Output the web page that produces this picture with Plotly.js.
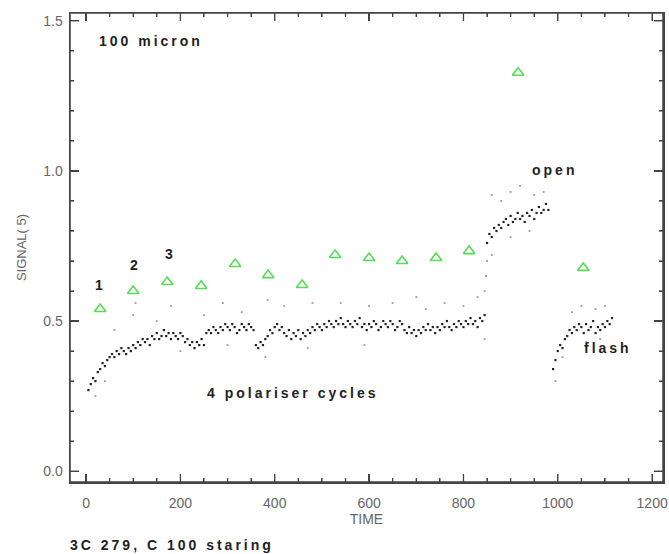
<!DOCTYPE html>
<html>
<head>
<meta charset="utf-8">
<script src="https://cdn.plot.ly/plotly-3.0.1.min.js"></script>
<style>
html, body { margin: 0; padding: 0; background: #fff; }
#chart { width: 669px; height: 554px; }
.annotation-text, .gtitle { letter-spacing: 3px; }
</style>
</head>
<body>
<div id="chart"></div>
<script>
// ---- data ----
const cycleTime = [5,10,15,20,25,30,35,40,45,50,55,60,65,70,75,80,85,90,95,100,
105,110,115,120,125,130,135,140,145,150,155,160,165,170,175,180,185,190,195,200,
205,210,215,220,225,230,235,240,245,250,255,260,265,270,275,280,285,290,295,300,
305,310,315,320,325,330,335,340,345,350,355,360,365,370,375,380,385,390,395,400,
405,410,415,420,425,430,435,440,445,450,455,460,465,470,475,480,485,490,495,500,
505,510,515,520,525,530,535,540,545,550,555,560,565,570,575,580,585,590,595,600,
605,610,615,620,625,630,635,640,645,650,655,660,665,670,675,680,685,690,695,700,
705,710,715,720,725,730,735,740,745,750,755,760,765,770,775,780,785,790,795,800,
805,810,815,820,825,830,835,840,845];
const cycleSignal = [0.27,0.29,0.31,0.30,0.33,0.34,0.36,0.35,0.37,0.38,0.39,0.38,0.40,0.39,0.41,0.40,0.39,0.41,0.40,0.42,
0.41,0.43,0.42,0.44,0.43,0.44,0.42,0.45,0.44,0.46,0.44,0.45,0.47,0.45,0.46,0.44,0.46,0.45,0.44,0.46,
0.45,0.43,0.44,0.42,0.43,0.41,0.43,0.42,0.44,0.42,0.46,0.47,0.46,0.48,0.47,0.46,0.48,0.47,0.49,0.48,
0.47,0.49,0.48,0.46,0.47,0.49,0.48,0.47,0.49,0.48,0.47,0.42,0.41,0.43,0.42,0.44,0.45,0.47,0.46,0.48,
0.49,0.47,0.48,0.46,0.45,0.47,0.44,0.46,0.45,0.47,0.44,0.46,0.45,0.47,0.46,0.48,0.47,0.49,0.48,0.47,
0.49,0.48,0.50,0.49,0.48,0.50,0.49,0.51,0.49,0.48,0.50,0.49,0.48,0.50,0.49,0.51,0.48,0.49,0.47,0.49,
0.48,0.50,0.49,0.47,0.48,0.50,0.49,0.48,0.50,0.49,0.47,0.48,0.50,0.49,0.47,0.46,0.48,0.46,0.47,0.45,
0.47,0.46,0.48,0.47,0.49,0.47,0.48,0.46,0.48,0.47,0.49,0.48,0.50,0.48,0.47,0.49,0.48,0.50,0.49,0.48,
0.50,0.49,0.51,0.49,0.50,0.48,0.51,0.50,0.52];

const openTime = [850,855,860,865,870,875,880,885,890,895,900,905,910,915,920,925,930,935,940,945,950,955,960,965,970,975,980];
const openSignal = [0.76,0.79,0.78,0.81,0.80,0.82,0.81,0.83,0.84,0.82,0.85,0.83,0.84,0.86,0.84,0.85,0.83,0.86,0.85,0.87,0.84,0.86,0.88,0.86,0.87,0.89,0.87];

const flashTime = [990,995,1000,1005,1010,1015,1020,1025,1030,1035,1040,1045,1050,1055,1060,1065,1070,1075,1080,1085,1090,1095,1100,1105,1110,1115];
const flashSignal = [0.34,0.37,0.40,0.42,0.41,0.44,0.45,0.47,0.46,0.48,0.47,0.49,0.48,0.46,0.49,0.47,0.48,0.50,0.46,0.48,0.47,0.49,0.48,0.50,0.49,0.51];

const scatterTime = [20,40,60,100,105,150,180,200,250,290,300,330,380,385,420,470,480,540,590,600,650,700,720,760,800,830,845,845,848,850,
860,880,900,920,950,970,900,940,860,995,1010,1030,1050,1080,1100,1060,1090];
const scatterSignal = [0.25,0.30,0.47,0.52,0.56,0.50,0.55,0.40,0.52,0.56,0.42,0.53,0.38,0.57,0.55,0.41,0.56,0.56,0.42,0.55,0.56,0.58,0.54,0.56,0.55,0.58,0.60,0.44,0.65,0.70,
0.92,0.90,0.93,0.95,0.92,0.93,0.78,0.80,0.72,0.30,0.38,0.53,0.55,0.54,0.55,0.43,0.44];

const refTime = [30,100,172,244,316,386,458,528,600,670,742,812,916,1054];
const refSignal = [0.54,0.60,0.63,0.617,0.69,0.653,0.62,0.72,0.71,0.70,0.71,0.733,1.327,0.677];

const xTicks = [0,200,400,600,800,1000,1200];
const xMinorTicks = [50,100,150,250,300,350,450,500,550,650,700,750,850,900,950,1050,1100,1150];
const yTicks = [0.0,0.5,1.0,1.5];
const yMinorTicks = [0.1,0.2,0.3,0.4,0.6,0.7,0.8,0.9,1.1,1.2,1.3,1.4];
const yTickText = ['0.0','0.5','1.0','1.5'];

// ---- drawing ----
const dotMarker = {symbol:'square', size:2.2, color:'#222'};
const traces = [
  {x: scatterTime, y: scatterSignal, type:'scatter', mode:'markers',
   marker:{symbol:'square', size:1.8, color:'#9a9a9a'}},
  {x: cycleTime, y: cycleSignal, type:'scatter', mode:'markers', marker: dotMarker},
  {x: openTime, y: openSignal, type:'scatter', mode:'markers', marker: dotMarker},
  {x: flashTime, y: flashSignal, type:'scatter', mode:'markers', marker: dotMarker},
  {x: refTime, y: refSignal, type:'scatter', mode:'markers',
   marker:{symbol:'triangle-up-open', size:10, color:'#55dd55', line:{width:1.6, color:'#55dd55'}}}
];

const tickFont = {family:'Liberation Sans, Arial, sans-serif', size:14, color:'#666'};
const axisCommon = {
  showgrid:false, zeroline:false, showline:true, linecolor:'#444', linewidth:1.5,
  mirror:'ticks', ticks:'inside', tickcolor:'#444', tickwidth:1.2, tickfont: tickFont
};

// frame and tick marks as shapes (positioned through the axes' own scales)
const frameLine = {color:'#444', width:1.3};
const shapes = [{type:'rect', xref:'paper', yref:'paper', x0:0, x1:1, y0:0, y1:1, line:{color:'#444', width:1.5}}];
function xTick(v, len) {
  shapes.push({type:'line', xref:'x', x0:v, x1:v, yref:'paper', ysizemode:'pixel', yanchor:0, y0:0, y1:len, line:frameLine});
  shapes.push({type:'line', xref:'x', x0:v, x1:v, yref:'paper', ysizemode:'pixel', yanchor:1, y0:0, y1:-len, line:frameLine});
}
function yTick(v, len) {
  shapes.push({type:'line', yref:'y', y0:v, y1:v, xref:'paper', xsizemode:'pixel', xanchor:0, x0:0, x1:len, line:frameLine});
  shapes.push({type:'line', yref:'y', y0:v, y1:v, xref:'paper', xsizemode:'pixel', xanchor:1, x0:0, x1:-len, line:frameLine});
}
xTicks.forEach(v => xTick(v, 8));
xMinorTicks.forEach(v => xTick(v, 4));
yTicks.forEach(v => yTick(v, 9));
yMinorTicks.forEach(v => yTick(v, 4));

const boldFont = {family:'Liberation Sans, Arial, sans-serif', size:14, color:'#222', weight:'bold'};
function lab(text, x, y, xanchor) {
  return {text:text, x:x, y:y, xref:'x', yref:'y', showarrow:false,
    xanchor:xanchor || 'center', yanchor:'middle', font:boldFont};
}

const layout = {
  width:669, height:554,
  margin:{l:70, r:6, t:13, b:72, autoexpand:false},
  showlegend:false,
  title:{text:'3C 279, C 100 staring', xref:'container', yref:'container',
         x:70/669, y:0.016, xanchor:'left', yanchor:'middle', font:boldFont, automargin:false},
  xaxis: Object.assign({}, axisCommon, {
    range:[-34,1223], tickvals:xTicks, ticklen:8, ticklabelstandoff:8,
    minor:{dtick:50, tick0:0, ticks:'inside', ticklen:4, tickcolor:'#444', tickwidth:1},
    title:{text:'TIME', standoff:4, font:tickFont}
  }),
  yaxis: Object.assign({}, axisCommon, {
    range:[-0.036,1.526], tickvals:yTicks, ticktext:yTickText, ticklen:9, ticklabelstandoff:3,
    minor:{dtick:0.1, tick0:0, ticks:'inside', ticklen:4, tickcolor:'#444', tickwidth:1},
    title:{text:'SIGNAL(\u00a05)', standoff:13, font:{family:'Liberation Sans, Arial, sans-serif', size:13, color:'#666'}}
  }),
  shapes: shapes,
  annotations: [
    lab('100 micron', 23, 1.433, 'left'),
    lab('1', 30, 0.62),
    lab('2', 104, 0.687),
    lab('3', 178, 0.723),
    lab('open', 941, 1.003, 'left'),
    lab('flash', 1051, 0.41, 'left'),
    lab('4 polariser cycles', 439, 0.26)
  ]
};

Plotly.newPlot('chart', traces, layout, {staticPlot:true});
</script>
</body>
</html>
